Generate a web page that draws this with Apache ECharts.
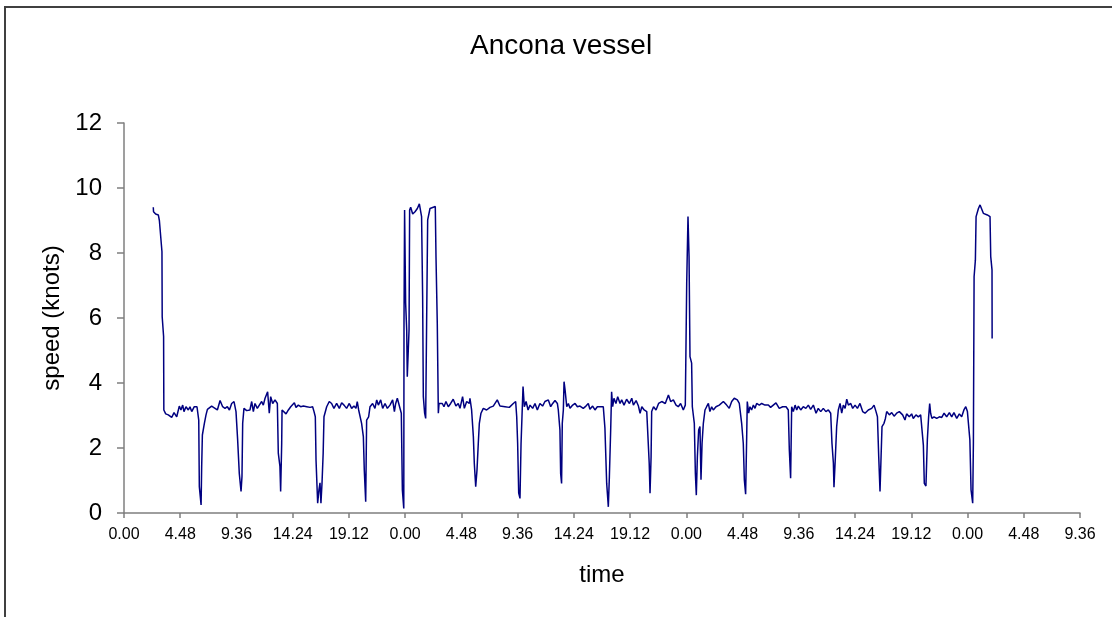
<!DOCTYPE html>
<html>
<head>
<meta charset="utf-8">
<script src="https://cdn.jsdelivr.net/npm/echarts@6/dist/echarts.min.js"></script>
<style>
  html, body { margin: 0; padding: 0; background: #fff; overflow: hidden; }
  #frame { position: absolute; left: 4px; top: 6px; width: 1200px; height: 700px;
           border-top: 2px solid #404040; border-left: 2px solid #404040; box-sizing: border-box; }
  #chart { position: absolute; left: 0; top: 0; width: 1112px; height: 617px; }
</style>
</head>
<body>
<div id="frame"></div>
<div id="chart"></div>
<script>
// ---- data (time in hours from start of first day, speed in knots) ----
const chartTitle = 'Ancona vessel';
const xAxisTitle = 'time';
const yAxisTitle = 'speed (knots)';
const xTickLabels = ['0.00','4.48','9.36','14.24','19.12','0.00','4.48','9.36','14.24','19.12',
                     '0.00','4.48','9.36','14.24','19.12','0.00','4.48','9.36'];
const xTickStep = 4.8;
const yTicks = [0, 2, 4, 6, 8, 10, 12];

const timeHours = [
 2.50,2.52,2.70,2.93,3.02,3.24,3.26,3.38,3.40,3.56,3.78,4.07,4.27,4.50,4.72,4.86,5.01,5.12,5.29,5.49,
 5.63,5.78,6.00,6.23,6.38,6.43,6.58,6.63,6.69,6.86,7.00,7.12,7.28,7.48,7.77,7.97,8.20,8.42,8.62,8.82,
 9.00,9.19,9.39,9.56,9.70,9.84,9.99,10.07,10.13,10.24,10.47,10.75,10.90,11.04,11.18,11.38,11.55,11.75,11.89,12.04,
 12.26,12.40,12.52,12.69,12.89,13.09,13.17,13.31,13.37,13.46,13.49,13.66,13.83,14.03,14.23,14.40,14.54,14.68,14.88,15.08,
 15.31,15.60,15.88,16.10,16.22,16.33,16.39,16.53,16.64,16.73,16.81,16.90,17.00,17.07,17.30,17.52,17.72,17.92,18.15,18.38,
 18.58,18.78,19.00,19.23,19.43,19.63,19.80,19.91,20.03,20.28,20.43,20.51,20.63,20.71,20.88,21.00,21.22,21.42,21.57,21.71,
 21.91,22.08,22.28,22.48,22.70,22.93,23.08,23.19,23.33,23.50,23.67,23.76,23.88,23.90,23.95,24.04,24.13,24.18,24.27,24.33,
 24.38,24.47,24.64,24.84,25.04,25.21,25.40,25.49,25.55,25.66,25.75,25.83,25.92,26.03,26.12,26.29,26.57,26.63,26.74,26.83,
 26.89,27.03,27.17,27.31,27.48,27.68,27.88,28.10,28.33,28.53,28.68,28.90,29.05,29.25,29.47,29.53,29.67,29.82,29.90,30.02,
 30.13,30.24,30.33,30.47,30.67,30.95,31.24,31.52,31.86,32.09,32.52,32.89,33.23,33.43,33.52,33.60,33.69,33.80,33.89,33.97,
 34.06,34.17,34.32,34.49,34.66,34.88,35.08,35.28,35.50,35.73,35.93,36.22,36.42,36.59,36.79,36.99,37.07,37.21,37.27,37.35,
 37.41,37.50,37.56,37.65,37.79,37.93,38.07,38.30,38.50,38.70,38.92,39.20,39.43,39.63,39.77,40.00,40.20,40.40,40.63,40.91,
 41.05,41.20,41.34,41.43,41.54,41.62,41.71,41.82,41.99,42.14,42.34,42.48,42.68,42.90,43.14,43.34,43.48,43.71,43.91,44.05,
 44.20,44.40,44.62,44.74,44.83,44.90,44.99,45.04,45.20,45.41,45.63,45.90,46.20,46.47,46.66,46.89,47.12,47.31,47.51,47.74,
 47.91,48.03,48.14,48.23,48.31,48.45,48.51,48.68,48.77,48.85,48.94,49.05,49.16,49.25,49.34,49.45,49.59,49.73,49.88,50.01,
 50.16,50.30,50.53,50.81,51.16,51.44,51.66,51.87,52.09,52.35,52.52,52.72,52.86,52.95,53.06,53.15,53.20,53.32,53.43,53.57,
 53.72,53.86,54.00,54.23,54.43,54.71,55.00,55.19,55.42,55.65,55.93,56.22,56.51,56.70,56.79,56.90,56.99,57.13,57.28,57.42,
 57.56,57.76,57.98,58.20,58.41,58.61,58.84,59.07,59.26,59.47,59.69,59.91,60.12,60.32,60.43,60.55,60.60,60.72,60.83,60.97,
 61.12,61.26,61.40,61.55,61.69,61.83,62.03,62.20,62.40,62.60,62.82,63.05,63.25,63.53,63.82,64.02,64.19,64.31,64.42,64.53,
 64.62,64.70,64.87,64.99,65.10,65.33,65.53,65.73,65.95,66.18,66.46,66.66,66.80,67.03,67.23,67.37,67.60,67.80,68.00,68.17,
 68.23,68.31,68.45,68.57,68.68,68.77,68.85,68.96,69.14,69.37,69.60,69.80,70.00,70.22,70.45,70.65,70.84,71.08,71.30,71.50,
 71.69,71.85,71.99,72.11,72.20,72.30,72.44,72.50,72.56,72.67,72.73,72.85,72.93,73.07,73.21,73.35,73.49,73.69,73.92,73.98,
 74.09,74.10
];

const speedKnots = [
 9.41,9.27,9.20,9.17,9.00,8.04,6.04,5.43,3.17,3.05,3.02,2.94,3.09,2.96,3.29,3.17,3.32,3.12,3.27,3.17,
 3.27,3.12,3.27,3.27,2.86,0.81,0.25,1.43,2.40,2.76,3.02,3.19,3.17,3.29,3.22,3.17,3.46,3.27,3.22,3.27,
 3.17,3.37,3.43,3.12,2.25,1.22,0.66,1.12,2.76,3.22,3.15,3.17,3.43,3.12,3.37,3.22,3.32,3.43,3.32,3.53,
 3.73,3.07,3.58,3.37,3.48,3.37,1.84,1.43,0.66,2.14,3.17,3.12,3.05,3.17,3.27,3.22,3.39,3.25,3.32,3.27,
 3.29,3.27,3.25,3.27,3.12,2.96,1.63,0.30,0.71,0.93,0.30,0.91,1.84,2.96,3.27,3.43,3.37,3.22,3.37,3.22,
 3.39,3.32,3.22,3.37,3.22,3.29,3.22,3.43,3.17,2.76,2.35,1.32,0.35,2.86,2.96,3.27,3.37,3.22,3.48,3.32,
 3.48,3.22,3.37,3.22,3.32,3.48,3.12,3.37,3.53,3.48,3.07,0.71,0.14,5.84,9.32,6.45,5.63,4.19,4.14,5.63,
 9.32,9.41,9.20,9.27,9.37,9.51,9.12,6.66,3.58,3.07,2.91,5.84,9.02,9.07,9.37,9.43,9.43,7.89,5.84,3.07,
 3.37,3.32,3.37,3.27,3.43,3.27,3.37,3.50,3.29,3.37,3.22,3.58,3.22,3.43,3.37,3.53,3.17,2.35,1.53,0.81,
 1.32,2.14,2.76,3.07,3.22,3.17,3.25,3.29,3.48,3.29,3.27,3.25,3.37,3.43,2.96,2.14,0.61,0.45,2.14,2.96,
 3.89,3.27,3.43,3.17,3.32,3.22,3.37,3.17,3.37,3.29,3.43,3.48,3.27,3.37,3.46,3.37,3.17,2.55,1.22,0.91,
 2.76,3.17,4.04,3.78,3.27,3.37,3.22,3.32,3.37,3.27,3.29,3.22,3.29,3.37,3.19,3.29,3.17,3.27,3.27,3.27,
 2.61,0.91,0.19,1.12,2.55,3.73,3.27,3.53,3.37,3.58,3.37,3.48,3.32,3.50,3.37,3.53,3.32,3.46,3.29,3.07,
 3.27,3.17,3.12,3.07,1.53,0.61,1.73,3.12,3.27,3.17,3.37,3.43,3.37,3.63,3.43,3.48,3.32,3.27,3.37,3.17,
 3.32,7.07,9.12,7.89,4.81,4.61,3.27,2.76,1.22,0.55,1.73,2.55,2.66,1.02,2.14,2.76,3.17,3.27,3.37,3.12,
 3.27,3.17,3.27,3.32,3.43,3.32,3.22,3.43,3.53,3.48,3.37,2.76,2.14,1.02,0.58,2.35,3.43,3.07,3.27,3.17,
 3.32,3.22,3.37,3.32,3.37,3.32,3.32,3.25,3.32,3.39,3.22,3.27,3.27,3.17,1.94,1.07,3.27,3.12,3.32,3.17,
 3.29,3.17,3.27,3.22,3.32,3.19,3.32,3.07,3.22,3.12,3.22,3.12,3.17,3.07,2.14,1.53,0.79,1.73,2.66,3.17,
 3.37,3.07,3.32,3.22,3.50,3.32,3.37,3.22,3.32,3.22,3.37,3.12,3.07,3.17,3.22,3.32,3.12,2.96,1.73,0.66,
 1.73,2.66,2.76,2.91,3.12,3.02,3.09,2.98,3.07,3.12,3.02,2.86,3.05,2.96,3.05,2.91,3.02,2.96,3.02,2.96,
 2.09,0.91,0.83,2.25,2.96,3.37,3.07,2.91,2.96,2.91,2.96,2.94,3.07,2.96,3.09,2.96,3.09,2.91,3.05,2.96,
 3.17,3.27,3.12,3.07,2.25,0.71,0.30,2.14,7.27,7.78,9.12,9.17,9.37,9.48,9.43,9.22,9.17,9.17,9.12,7.89,
 7.48,5.37
];

const seriesData = timeHours.map((t, i) => [t, speedKnots[i]]);
const xMax = xTickStep * (xTickLabels.length - 1);

const FONT = '"Liberation Sans", Arial, sans-serif';
const chart = echarts.init(document.getElementById('chart'), null, { renderer: 'canvas' });
chart.setOption({
  animation: false,
  backgroundColor: 'transparent',
  title: {
    text: chartTitle,
    left: 465, top: 27,
    textStyle: { fontFamily: FONT, fontSize: 28, fontWeight: 'normal', color: '#000' }
  },
  grid: { left: 124, right: 32, top: 123, bottom: 104, containLabel: false },
  xAxis: {
    type: 'value',
    min: 0, max: xMax, interval: xTickStep,
    name: xAxisTitle, nameLocation: 'middle', nameGap: 50,
    nameTextStyle: { fontFamily: FONT, fontSize: 24, color: '#000' },
    axisLine: { show: true, lineStyle: { color: '#7f7f7f', width: 1.5 } },
    axisTick: { show: true, inside: false, length: 5, lineStyle: { color: '#7f7f7f', width: 1.5 } },
    axisLabel: {
      fontFamily: FONT, fontSize: 16, color: '#000', margin: 14,
      showMinLabel: true, showMaxLabel: true,
      formatter: v => { const k = Math.round(v / xTickStep); return xTickLabels[k] ?? ''; }
    },
    splitLine: { show: false }
  },
  yAxis: {
    type: 'value',
    min: yTicks[0], max: yTicks[yTicks.length - 1], interval: yTicks[1] - yTicks[0],
    name: yAxisTitle, nameLocation: 'middle', nameGap: 60, nameRotate: 90,
    nameTextStyle: { fontFamily: FONT, fontSize: 24, color: '#000' },
    axisLine: { show: true, lineStyle: { color: '#7f7f7f', width: 1.5 } },
    axisTick: { show: true, inside: false, length: 7, lineStyle: { color: '#7f7f7f', width: 1.5 } },
    axisLabel: { fontFamily: FONT, fontSize: 24, color: '#000', margin: 22 },
    splitLine: { show: false }
  },
  series: [{
    type: 'line',
    data: seriesData,
    showSymbol: false,
    symbol: 'none',
    lineStyle: { color: '#000080', width: 1.5 },
    emphasis: { disabled: true }
  }]
});
</script>
</body>
</html>
